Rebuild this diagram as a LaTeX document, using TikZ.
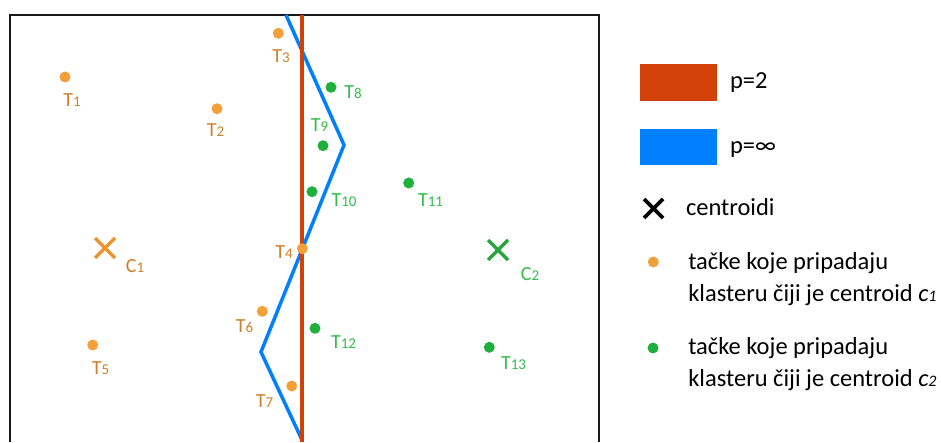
\documentclass[tikz,border=0pt]{standalone}
\usepackage{fontspec}
\setmainfont{Carlito}
\newcommand{\ptlabel}[2]{#1{\fontsize{15}{15}\selectfont #2}}

\begin{document}
\begin{tikzpicture}[x=1pt,y=1pt,
  orgdot/.style={circle,fill=dotOrange,inner sep=0pt,minimum size=11pt},
  grndot/.style={circle,fill=dotGreen,inner sep=0pt,minimum size=11pt},
  orglab/.style={text=labOrange,inner sep=0pt,outer sep=0pt,font=\fontsize{20}{20}\selectfont},
  grnlab/.style={text=labGreen,inner sep=0pt,outer sep=0pt,font=\fontsize{20}{20}\selectfont},
  legtext/.style={anchor=base west,inner sep=0pt,outer sep=0pt,font=\fontsize{24.5}{24.5}\selectfont}]
\definecolor{fillColor}{RGB}{255,255,255}
\definecolor{frameColor}{gray}{0.10}
\definecolor{redColor}{RGB}{210,66,8}
\definecolor{blueColor}{RGB}{0,128,255}
\definecolor{dotOrange}{RGB}{244,160,58}
\definecolor{labOrange}{RGB}{205,128,40}
\definecolor{dotGreen}{RGB}{30,175,60}
\definecolor{labGreen}{RGB}{50,190,75}
\definecolor{crossOrange}{RGB}{235,148,48}
\definecolor{crossGreen}{RGB}{40,165,60}
\path[use as bounding box,fill=fillColor] (0,0) rectangle (941,442);

% frame, open at the bottom
\path[draw=frameColor,line width=2pt] (10,0) -- (10,427) -- (599,427) -- (599,0);

% p=inf border
\coordinate (b1) at (286,427);
\coordinate (b2) at (344,297);
\coordinate (b3) at (261,90);
\coordinate (b4) at (302,2);
\path[draw=blueColor,line width=3.5pt,line join=miter] (b1) -- (b2) -- (b3) -- (b4);

% p=2 border
\coordinate (r1) at (302,427);
\coordinate (r2) at (302,0);
\path[draw=redColor,line width=3.5pt] (r1) -- (r2);

% centroids
\path[draw=crossOrange,line width=3.2pt] (95,184) -- (115,204) (95,204) -- (115,184);
\path[draw=crossGreen,line width=3.2pt] (488,182) -- (508,202) (488,202) -- (508,182);
\node[orglab] (c1lab) at (135,176) {\ptlabel{C}{1}};
\node[grnlab] (c2lab) at (530,167.5) {\ptlabel{C}{2}};

% cluster 1
\node[orgdot] (t1) at (65,365) {};
\node[orgdot] (t2) at (217,333.3) {};
\node[orgdot] (t3) at (278.3,408.7) {};
\node[orgdot] (t5) at (92.7,97) {};
\node[orgdot] (t6) at (262.3,130.7) {};
\node[orgdot] (t7) at (291.7,56) {};
\node[orglab] (t1lab) at (72,341.5) {\ptlabel{T}{1}};
\node[orglab] (t2lab) at (215.5,312) {\ptlabel{T}{2}};
\node[orglab] (t3lab) at (281,385.5) {\ptlabel{T}{3}};
\node[orglab] (t4lab) at (284,189.5) {\ptlabel{T}{4}};
\node[orglab] (t5lab) at (100.5,73.5) {\ptlabel{T}{5}};
\node[orglab] (t6lab) at (244.5,116) {\ptlabel{T}{6}};
\node[orglab] (t7lab) at (264.5,40.5) {\ptlabel{T}{7}};

% cluster 2
\node[grndot] (t8) at (331,354.7) {};
\node[grndot] (t9) at (323,296.3) {};
\node[grndot] (t10) at (312,250.3) {};
\node[grndot] (t11) at (408.7,259) {};
\node[grndot] (t12) at (315,113.7) {};
\node[grndot] (t13) at (489.3,94.7) {};
\node[grnlab] (t8lab) at (353,350) {\ptlabel{T}{8}};
\node[grnlab] (t9lab) at (319.5,317) {\ptlabel{T}{9}};
\node[grnlab] (t10lab) at (344,242) {\ptlabel{T}{10}};
\node[grnlab] (t11lab) at (430.5,242) {\ptlabel{T}{11}};
\node[grnlab] (t12lab) at (343.5,99.5) {\ptlabel{T}{12}};
\node[grnlab] (t13lab) at (513.5,79) {\ptlabel{T}{13}};

% T4 sits on the border
\node[orgdot] (t4) at (302.3,193.3) {};

% legend
\path[fill=redColor] (640,341) rectangle (717,378);
\path[fill=blueColor] (640,277) rectangle (717,313);
\path[draw=black,line width=3.8pt] (644,224) -- (663,243) (644,243) -- (663,224);
\node[orgdot] (legorg) at (653.3,180) {};
\node[grndot] (leggrn) at (653,94) {};
\node[legtext] (legred) at (730,353) {p=2};
\node[legtext] (legblue) at (730,288) {p=∞};
\node[legtext] (legcross) at (686,226.3) {centroidi};
\node[legtext] (legorga) at (688.3,172.7) {tačke koje pripadaju};
\node[legtext] (legorgb) at (688.3,140.3) {klasteru čiji je centroid \textit{c}{\fontsize{16}{16}\selectfont\itshape 1}};
\node[legtext] (leggrna) at (688.3,88) {tačke koje pripadaju};
\node[legtext] (leggrnb) at (688.3,55.3) {klasteru čiji je centroid \textit{c}{\fontsize{16}{16}\selectfont\itshape 2}};
\end{tikzpicture}
\end{document}
